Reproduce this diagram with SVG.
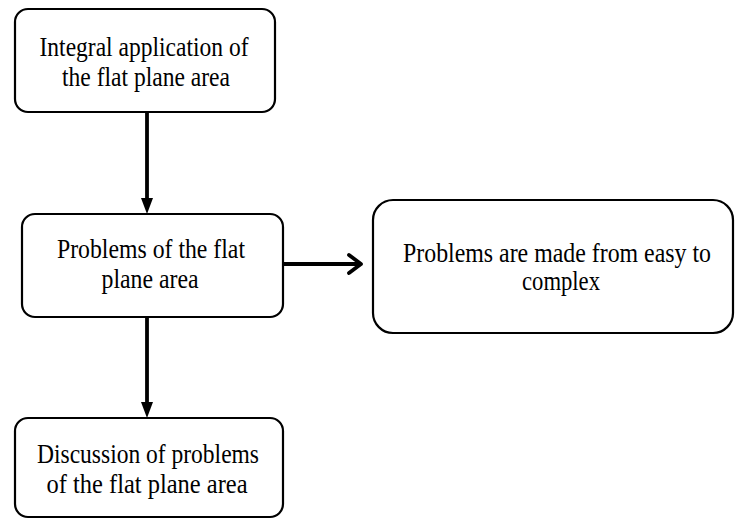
<svg xmlns="http://www.w3.org/2000/svg" width="736" height="519" viewBox="0 0 736 519">
<style>
.box{fill:#fff;stroke:#000;stroke-width:2.2}
.t{font-family:"Liberation Serif","Times New Roman",serif;font-size:27px;fill:#000;text-anchor:middle}
.ln{stroke:#000;stroke-width:3.8;fill:none}
</style>
<rect width="736" height="519" fill="#fff"/>
<g id="n1">
<rect class="box" x="15" y="9" width="260" height="103" rx="13"/>
<text class="t" x="144" y="56" textLength="209" lengthAdjust="spacingAndGlyphs">Integral application of</text>
<text class="t" x="146" y="86" textLength="168" lengthAdjust="spacingAndGlyphs">the flat plane area</text>
</g>
<g id="n2">
<rect class="box" x="22" y="214" width="261" height="103" rx="13"/>
<text class="t" x="151" y="258" textLength="188" lengthAdjust="spacingAndGlyphs">Problems of the flat</text>
<text class="t" x="150" y="288" textLength="97" lengthAdjust="spacingAndGlyphs">plane area</text>
</g>
<g id="n3">
<rect class="box" x="373" y="200" width="360" height="133" rx="20"/>
<text class="t" x="557" y="262" style="font-size:26.5px" textLength="308" lengthAdjust="spacingAndGlyphs">Problems are made from easy to</text>
<text class="t" x="561" y="290" textLength="78" lengthAdjust="spacingAndGlyphs">complex</text>
</g>
<g id="n4">
<rect class="box" x="15" y="418" width="268" height="99" rx="13"/>
<text class="t" x="148" y="463" textLength="222" lengthAdjust="spacingAndGlyphs">Discussion of problems</text>
<text class="t" x="147" y="493" textLength="201" lengthAdjust="spacingAndGlyphs">of the flat plane area</text>
</g>
<g id="connectors">
<line class="ln" x1="147" y1="112" x2="147" y2="200"/>
<path d="M141,198 L153,198 L147,214 Z" fill="#000"/>
<line class="ln" x1="147" y1="317" x2="147" y2="404"/>
<path d="M141,402 L153,402 L147,418 Z" fill="#000"/>
<line class="ln" x1="283" y1="264" x2="361" y2="264"/>
<path class="ln" d="M349,255 L361,264 L349,273" stroke-linecap="round" stroke-linejoin="round" stroke-width="4.8"/>
</g>
</svg>
